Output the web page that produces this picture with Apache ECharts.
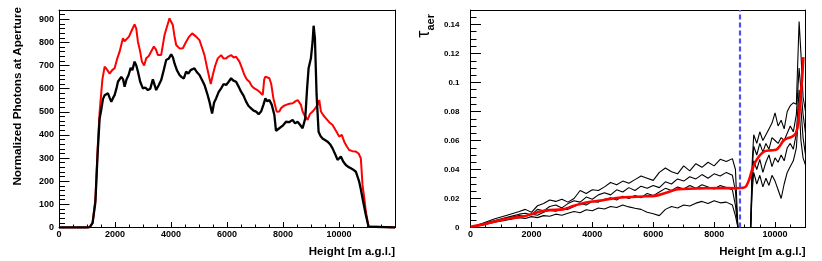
<!DOCTYPE html>
<html>
<head>
<meta charset="utf-8">
<script src="https://cdn.jsdelivr.net/npm/echarts@6/dist/echarts.min.js"></script>
<style>
html,body{margin:0;padding:0;background:#fff;}
#c{width:822px;height:261px;}
</style>
</head>
<body>
<div id="c"></div>
<script>
// ---- Left panel: normalized photons at aperture vs height ----
const photonsBlack = [[0,0],[1000,0],[1100,2],[1200,20],[1300,110],[1380,320],[1450,470],[1510,510],[1570,555],[1630,572],[1690,568],[1749,580],[1810,560],[1868,543],[1930,560],[1986,572],[2050,600],[2105,630],[2160,625],[2224,651],[2290,640],[2343,608],[2410,640],[2485,659],[2560,690],[2620,680],[2699,717],[2760,700],[2818,674],[2900,630],[2996,601],[3080,605],[3174,594],[3260,600],[3352,640],[3410,645],[3471,594],[3560,615],[3650,637],[3740,680],[3828,724],[3920,730],[4007,749],[4070,735],[4126,709],[4210,680],[4304,659],[4380,650],[4458,644],[4541,674],[4620,665],[4700,680],[4838,688],[4920,672],[5017,659],[5100,640],[5195,616],[5290,580],[5373,544],[5468,493],[5540,540],[5611,558],[5700,585],[5790,601],[5880,620],[5968,616],[6060,630],[6146,645],[6230,635],[6325,630],[6410,610],[6503,587],[6590,570],[6682,544],[6770,525],[6860,515],[6950,505],[7038,501],[7130,490],[7217,501],[7300,530],[7371,558],[7440,545],[7514,551],[7600,530],[7692,486],[7750,418],[7868,429],[7990,440],[8106,457],[8220,455],[8343,465],[8430,450],[8521,457],[8600,445],[8700,429],[8795,472],[8860,600],[8914,688],[8997,731],[9057,803],[9093,872],[9140,817],[9200,573],[9271,414],[9340,395],[9413,385],[9500,378],[9592,371],[9680,360],[9770,342],[9860,318],[9948,292],[10067,307],[10150,285],[10245,270],[10330,262],[10424,256],[10510,250],[10602,241],[10721,198],[10780,165],[10840,126],[10900,90],[10959,54],[11054,4],[11100,0],[12000,0]];

const photonsRed = [[0,0],[1000,0],[1100,2],[1200,20],[1300,120],[1380,340],[1451,500],[1550,640],[1630,695],[1700,685],[1808,665],[1900,680],[1986,688],[2080,730],[2164,760],[2283,818],[2340,805],[2402,797],[2500,825],[2580,847],[2699,878],[2760,860],[2818,803],[2900,760],[2960,717],[3040,700],[3115,731],[3200,740],[3270,746],[3388,782],[3460,770],[3530,746],[3650,746],[3769,832],[3860,870],[3947,904],[4000,890],[4066,875],[4120,830],[4185,789],[4303,774],[4423,775],[4541,803],[4650,825],[4755,839],[4898,825],[5017,810],[5100,780],[5195,745],[5290,690],[5373,645],[5420,620],[5492,659],[5580,700],[5671,731],[5790,745],[5880,730],[5968,731],[6060,740],[6146,745],[6240,735],[6325,738],[6444,717],[6530,690],[6622,659],[6710,640],[6800,630],[6890,610],[6979,601],[7070,595],[7157,587],[7276,573],[7330,640],[7371,652],[7440,650],[7514,645],[7580,620],[7657,558],[7776,500],[7868,501],[7930,515],[8020,525],[8109,530],[8230,535],[8347,537],[8440,545],[8525,551],[8581,558],[8640,530],[8700,501],[8790,480],[8879,465],[8960,490],[9057,501],[9150,515],[9236,530],[9295,551],[9355,501],[9440,485],[9533,472],[9650,455],[9770,443],[9880,420],[10008,393],[10100,400],[10186,371],[10280,350],[10364,335],[10480,330],[10602,328],[10700,320],[10780,299],[10840,184],[10900,130],[10959,69],[11054,4],[11100,0],[12000,0]];

// ---- Right panel: aerosol optical depth vs height ----
const tauX = [0,400,800,1200,
  1600,1800,2000,2200,2400,2600,2800,3000,3200,3400,
  3600,3800,4000,4200,4400,4600,4800,5000,5200,5400,
  5600,5800,6000,6200,6400,6600,6800,7000,7200,7400,
  7600,7800,8000,8200,8400,8600,
  8700,8780,
  9200,9250,9300,
  9400,9500,9600,9700,9800,9900,10000,10100,10200,10300,10400,10500,10600,10700,
  10790,10850,10920,11000];

const tauA = [0,0.003,0.006,0.0085,
  0.011,0.0125,0.0105,0.015,0.0165,0.019,0.018,0.0195,0.0175,0.020,
  0.0255,0.0235,0.026,0.0255,0.028,0.031,0.0295,0.032,0.0305,0.033,
  0.0355,0.034,0.0325,0.038,0.041,0.0385,0.037,0.0425,0.039,0.044,
  0.0415,0.045,0.0425,0.047,0.0455,0.0475,
  0.040,0,
  0,0.045,0.064,
  0.058,0.066,0.060,0.064,0.068,0.072,0.079,0.070,0.074,0.068,0.080,0.084,0.086,0.085,
  0.142,0.120,0.090,0.080];

const tauB = [0,0.0025,0.0048,0.007,
  0.0092,0.0098,0.0088,0.0125,0.0115,0.0145,0.0155,0.0135,0.0165,0.0185,
  0.0175,0.021,0.0195,0.0225,0.024,0.0225,0.026,0.0245,0.0275,0.0255,
  0.0285,0.027,0.029,0.0275,0.0315,0.030,0.0335,0.032,0.035,0.0335,
  0.0365,0.034,0.037,0.0355,0.038,0.036,
  0.025,0,
  0,0.040,0.056,
  0.050,0.058,0.052,0.058,0.054,0.062,0.060,0.058,0.062,0.060,0.065,0.070,0.066,0.078,
  0.110,0.095,0.078,0.065];

const tauC = [0,0.0022,0.0043,0.0063,
  0.0082,0.0078,0.0092,0.0085,0.0105,0.012,0.0112,0.0128,0.0125,0.0145,
  0.0165,0.0155,0.018,0.0175,0.0195,0.0205,0.019,0.0215,0.020,0.022,
  0.0205,0.0235,0.022,0.0245,0.027,0.0255,0.028,0.0265,0.029,0.027,
  0.0295,0.028,0.0265,0.029,0.0275,0.026,
  0.015,0,
  0,0.032,0.046,
  0.040,0.047,0.038,0.045,0.050,0.042,0.048,0.045,0.050,0.046,0.055,0.058,0.054,0.065,
  0.095,0.082,0.062,0.050];

const tauD = [0,0.0018,0.0036,0.0052,
  0.0068,0.0062,0.0075,0.0068,0.0082,0.0078,0.0092,0.0085,0.0098,0.011,
  0.0102,0.0122,0.0115,0.0135,0.0128,0.0145,0.0138,0.0155,0.0142,0.0133,
  0.0125,0.0105,0.0095,0.0082,0.0125,0.0145,0.0135,0.0155,0.0148,0.0168,
  0.018,0.0165,0.0185,0.017,0.0175,0.0155,
  0.008,0,
  0,0.025,0.038,
  0.030,0.036,0.028,0.034,0.029,0.036,0.032,0.026,0.020,0.030,0.038,0.042,0.046,0.055,
  0.085,0.060,0.048,0.043];

const tauFit = [[0,0.0005],[500,0.0025],[1000,0.0052],[1300,0.0064],[1730,0.0076],[2050,0.0095],[2300,0.0110],[2600,0.0120],[3040,0.0125],[3370,0.0148],[3800,0.0172],[4350,0.0188],[4790,0.0203],[5200,0.0210],[5660,0.0214],[6100,0.0220],[6430,0.0240],[6750,0.0262],[7000,0.0266],[7410,0.0269],[8170,0.0272],[8720,0.0271],[8950,0.0274],[9050,0.0285],[9150,0.0330],[9250,0.0400],[9350,0.0450],[9490,0.0495],[9650,0.0525],[9850,0.0532],[10030,0.0536],[10150,0.0560],[10280,0.0600],[10400,0.0615],[10550,0.0625],[10680,0.0650],[10760,0.0720],[10830,0.0880],[10890,0.1030],[10930,0.1175]];

const cutHeight = [8830];

const FONT = '"Liberation Sans", Arial, Helvetica, sans-serif';
const chart = echarts.init(document.getElementById('c'), null, {renderer: 'canvas'});
const fmt = v => String(+(+v).toPrecision(6));
const BLK = {color: '#000', width: 1};

function xAx(gi, max, interval){
  return {type:'value',gridIndex:gi,min:0,max:max,interval:interval,position:'bottom',
    axisLine:{show:true,onZero:false,lineStyle:BLK},
    axisTick:{show:true,inside:true,length:5.5,lineStyle:BLK},
    minorTick:{show:true,splitNumber:4,length:3,lineStyle:BLK},
    splitLine:{show:false},
    axisLabel:{show:true,showMaxLabel:false,margin:3,color:'#000',formatter:fmt,fontFamily:FONT,fontWeight:'bold',fontSize:9}};
}
function yAx(gi, max, interval, ms, fs, margin){
  return {type:'value',gridIndex:gi,min:0,max:max,interval:interval,position:'left',
    axisLine:{show:true,onZero:false,lineStyle:BLK},
    axisTick:{show:true,inside:true,length:10.5,lineStyle:BLK},
    minorTick:{show:true,splitNumber:ms,length:6,lineStyle:BLK},
    splitLine:{show:false},
    axisLabel:{show:true,showMaxLabel:false,margin:margin,color:'#000',formatter:fmt,fontFamily:FONT,fontWeight:'bold',fontSize:fs}};
}
function edge(gi, max, pos){
  return {type:'value',gridIndex:gi,min:0,max:max,position:pos,
    axisLine:{show:true,onZero:false,lineStyle:BLK},axisTick:{show:false},minorTick:{show:false},axisLabel:{show:false},splitLine:{show:false}};
}

const tauLine = (arr) => tauX.map((x, i) => [x, arr[i]]);
const thinBlack = {color: '#000', width: 1.1};

chart.setOption({
  animation:false, animationDuration:0, animationDurationUpdate:0, backgroundColor:'#fff',
  grid:[{left:59,top:10,width:336,height:217.5},{left:470.5,top:10,width:335,height:217.5}],
  xAxis:[xAx(0,12000,2000),xAx(1,11000,2000),edge(0,12000,'top'),edge(1,11000,'top')],
  yAxis:[yAx(0,940,100,5,9,5),yAx(1,0.15,0.02,4,8,11),edge(0,940,'right'),edge(1,0.15,'right')],
  series:[
    {type:'line',xAxisIndex:0,yAxisIndex:0,data:photonsRed,showSymbol:false,symbol:'none',
      lineStyle:{color:'#ff0000',width:2},z:2},
    {type:'line',xAxisIndex:0,yAxisIndex:0,data:photonsBlack,showSymbol:false,symbol:'none',
      lineStyle:{color:'#000',width:2.3},z:2},
    {type:'line',xAxisIndex:1,yAxisIndex:1,data:tauLine(tauA),showSymbol:false,symbol:'none',lineStyle:thinBlack,z:2},
    {type:'line',xAxisIndex:1,yAxisIndex:1,data:tauLine(tauB),showSymbol:false,symbol:'none',lineStyle:thinBlack,z:2},
    {type:'line',xAxisIndex:1,yAxisIndex:1,data:tauLine(tauC),showSymbol:false,symbol:'none',lineStyle:thinBlack,z:2},
    {type:'line',xAxisIndex:1,yAxisIndex:1,data:tauLine(tauD),showSymbol:false,symbol:'none',lineStyle:thinBlack,z:2},
    {type:'line',xAxisIndex:1,yAxisIndex:1,data:tauFit,showSymbol:false,symbol:'none',smooth:0.3,
      lineStyle:{color:'#ff0000',width:2.6},z:2,
      markLine:{silent:true,animation:false,symbol:['none','none'],label:{show:false},
        lineStyle:{color:'#5050ee',type:[5,3],width:2.2},
        data:cutHeight.map(v => ({xAxis: v}))}}
  ],
  graphic:[
    {type:'text',x:17.5,y:7,rotation:Math.PI/2,silent:true,
      style:{text:'Normalized Photons at Aperture',align:'right',verticalAlign:'middle',font:'bold 11.7px '+FONT,fill:'#000'}},
    {type:'text',x:395,y:252,silent:true,
      style:{text:'Height [m a.g.l.]',align:'right',verticalAlign:'middle',font:'bold 11.5px '+FONT,fill:'#000'}},
    {type:'text',x:805.5,y:252,silent:true,
      style:{text:'Height [m a.g.l.]',align:'right',verticalAlign:'middle',font:'bold 11.5px '+FONT,fill:'#000'}},
    {type:'text',x:424,y:14,rotation:Math.PI/2,silent:true,
      style:{text:'{t|τ}{s|aer}',align:'right',verticalAlign:'middle',
        rich:{
          t:{fontFamily:FONT,fontSize:18,fill:'#000',fontWeight:'normal',verticalAlign:'bottom'},
          s:{fontFamily:FONT,fontSize:11,fill:'#000',fontWeight:'bold',verticalAlign:'bottom',padding:[0,0,-3,0]}
        }}}
  ]
});
</script>
</body>
</html>
